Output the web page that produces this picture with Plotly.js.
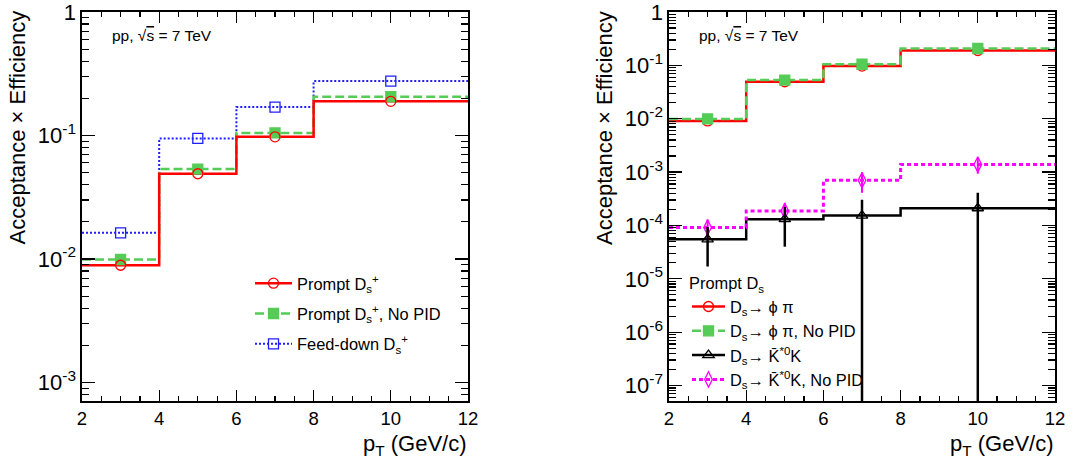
<!DOCTYPE html>
<html><head><meta charset="utf-8">
<script src="https://cdn.plot.ly/plotly-3.0.1.min.js"></script>
<style>body{margin:0;background:#fff}#plot{width:1078px;height:464px}</style>
</head><body><div id="plot"></div>
<script>
// ---- data ----
const binEdges = [2, 4, 6, 8, 12];
const binCenters = [3, 5, 7, 10];
// left panel
const promptDs = [0.0089, 0.049, 0.0975, 0.189];
const promptDsNoPID = [0.0099, 0.0535, 0.105, 0.206];
const feedDownDs = [0.0163, 0.0946, 0.170, 0.276];
// right panel
const phiPi = [0.0091, 0.0493, 0.0968, 0.190];
const phiPiNoPID = [0.0099, 0.053, 0.105, 0.207];
const kstarK = [5.5e-5, 1.31e-4, 1.53e-4, 2.1e-4];
const kstarKErrPlus = [3.8e-5, 9.1e-5, 1.5e-4, 2.0e-4];
const kstarKErrMinus = [3.8e-5, 9.1e-5, 1.6e-4, 2.2e-4];
const kstarKNoPID = [9.2e-5, 1.87e-4, 7.0e-4, 1.39e-3];
const kstarKNoPIDErr = [3.8e-5, 8.0e-5, 2.9e-4, 4.6e-4];
const xTicks = [2, 4, 6, 8, 10, 12];
const yTicksLeft = [1, 0.1, 0.01, 0.001];
const yTextLeft = ['1', '10<sup>-1</sup>', '10<sup>-2</sup>', '10<sup>-3</sup>'];
const yTicksRight = [1, 0.1, 0.01, 0.001, 1e-4, 1e-5, 1e-6, 1e-7];
const yTextRight = ['1', '10<sup>-1</sup>', '10<sup>-2</sup>', '10<sup>-3</sup>', '10<sup>-4</sup>', '10<sup>-5</sup>', '10<sup>-6</sup>', '10<sup>-7</sup>'];

const F = 'Liberation Sans, Arial, Helvetica, sans-serif';
const W = 1078, H = 464;

function minorLog(lo, hi) {
  const v = [];
  for (let e = lo; e < hi; e++) for (let k = 2; k <= 9; k++) v.push(k * Math.pow(10, e));
  return v;
}
function stepY(vals) { return vals.concat([vals[vals.length - 1]]); }

function stepTrace(vals, color, width, dash, xa, ya) {
  return {x: binEdges, y: stepY(vals), type: 'scatter', mode: 'lines',
    line: {shape: 'hv', color: color, width: width, dash: dash},
    xaxis: xa, yaxis: ya, showlegend: false, hoverinfo: 'skip'};
}
function markTrace(vals, symbol, color, size, fill, xa, ya, err) {
  const t = {x: binCenters, y: vals, type: 'scatter', mode: 'markers',
    marker: {symbol: symbol, size: size, color: fill || color, line: {color: color, width: 1.3}},
    xaxis: xa, yaxis: ya, showlegend: false};
  if (err) t.error_y = err;
  return t;
}
function legTrace(name, color, width, dash, symbol, size, fill, legend) {
  return {x: [null], y: [null], type: 'scatter', mode: 'lines+markers', name: name,
    line: {color: color, width: width, dash: dash},
    marker: {symbol: symbol, size: size, color: fill || color, line: {color: color, width: 1.3}},
    xaxis: legend === 'legend' ? 'x' : 'x2', yaxis: legend === 'legend' ? 'y' : 'y2',
    legend: legend, legendgroup: name};
}

const RED = '#ff0000', GREEN = '#55cc55', BLUE = '#1e1eff', MAG = '#ff00ff', BLK = '#000000';
const greenDash = '9px,4px', blueDot = '2px,2px', magDot = '4px,3px';

const traces = [
  stepTrace(feedDownDs, BLUE, 2, blueDot, 'x', 'y'),
  stepTrace(promptDsNoPID, GREEN, 2.5, greenDash, 'x', 'y'),
  stepTrace(promptDs, RED, 2.5, 'solid', 'x', 'y'),
  markTrace(feedDownDs, 'square-open', BLUE, 10, null, 'x', 'y'),
  markTrace(promptDsNoPID, 'square', GREEN, 10, null, 'x', 'y'),
  markTrace(promptDs, 'circle-open', RED, 10, null, 'x', 'y'),

  stepTrace(kstarK, BLK, 2.5, 'solid', 'x2', 'y2'),
  stepTrace(kstarKNoPID, MAG, 3, magDot, 'x2', 'y2'),
  stepTrace(phiPi, RED, 2.5, 'solid', 'x2', 'y2'),
  stepTrace(phiPiNoPID, GREEN, 2.5, greenDash, 'x2', 'y2'),
  markTrace(kstarKNoPID, 'diamond-tall-open', MAG, 11, null, 'x2', 'y2',
    {type: 'data', array: kstarKNoPIDErr, color: MAG, thickness: 2, width: 0}),
  markTrace(kstarK, 'triangle-up-open', BLK, 10, null, 'x2', 'y2',
    {type: 'data', array: kstarKErrPlus, arrayminus: kstarKErrMinus, symmetric: false, color: BLK, thickness: 2.5, width: 0}),
  markTrace(phiPi, 'circle-open', RED, 10, null, 'x2', 'y2'),
  markTrace(phiPiNoPID, 'square', GREEN, 10, null, 'x2', 'y2'),

  legTrace('Prompt D<sub>s</sub><sup>+</sup>', RED, 2.5, 'solid', 'circle-open', 10, null, 'legend'),
  legTrace('Prompt D<sub>s</sub><sup>+</sup>, No PID', GREEN, 2.5, greenDash, 'square', 10, null, 'legend'),
  legTrace('Feed-down D<sub>s</sub><sup>+</sup>', BLUE, 2, blueDot, 'square-open', 10, null, 'legend'),
  legTrace('D<sub>s</sub>\u2192 \u03d5 \u03c0', RED, 2.5, 'solid', 'circle-open', 10, null, 'legend2'),
  legTrace('D<sub>s</sub>\u2192 \u03d5 \u03c0, No PID', GREEN, 2.5, greenDash, 'square', 10, null, 'legend2'),
  legTrace('D<sub>s</sub>\u2192 K\u0304<sup>*0</sup>K', BLK, 2.5, 'solid', 'triangle-up-open', 10, null, 'legend2'),
  legTrace('D<sub>s</sub>\u2192 K\u0304<sup>*0</sup>K, No PID', MAG, 3, magDot, 'diamond-tall-open', 11, null, 'legend2')
];

const axCommon = {
  showline: true, linecolor: 'black', linewidth: 1.6, mirror: 'ticks',
  ticks: 'inside', tickcolor: 'black', tickwidth: 1.2,
  showgrid: false, zeroline: false, ticklabeloverflow: 'allow'
};
function xAx(domain, anchor) {
  return Object.assign({}, axCommon, {domain: domain, anchor: anchor, range: [2, 12],
    tickmode: 'array', tickvals: xTicks, ticklen: 11,
    tickfont: {family: F, size: 18.5, color: 'black'},
    minor: {dtick: 0.5, tick0: 2, ticklen: 5, ticks: 'inside', tickcolor: 'black', tickwidth: 1.2}});
}
function yAx(range, tv, tt, anchor, lo) {
  return Object.assign({}, axCommon, {domain: [(H - 401) / H, (H - 12) / H], anchor: anchor, type: 'log', range: range,
    tickmode: 'array', tickvals: tv, ticktext: tt, ticklen: 13,
    tickfont: {family: F, size: 22, color: 'black'},
    minor: {tickmode: 'array', tickvals: minorLog(lo, 0), ticklen: 7, ticks: 'inside', tickcolor: 'black', tickwidth: 1.2}});
}

const annFont = {family: F, size: 22, color: 'black'};
const legFont = {family: F, size: 16.4, color: 'black'};
const ppFont = {family: F, size: 15.5, color: 'black'};
const layout = {
  width: W, height: H, margin: {l: 0, r: 0, t: 0, b: 0},
  paper_bgcolor: 'white', plot_bgcolor: 'white',
  font: {family: F, color: 'black'},
  xaxis: xAx([82 / W, 468 / W], 'y'),
  yaxis: yAx([-3.15, 0], yTicksLeft, yTextLeft, 'x', -4),
  xaxis2: xAx([669 / W, 1055 / W], 'y2'),
  yaxis2: yAx([-7.29, 0], yTicksRight, yTextRight, 'x2', -8),
  legend: {x: 250 / W, xanchor: 'left', y: 1 - 266 / H, yanchor: 'top', bgcolor: 'rgba(0,0,0,0)',
    font: legFont, traceorder: 'grouped', tracegroupgap: 6, itemwidth: 37},
  legend2: {x: 687 / W, xanchor: 'left', y: 1 - 268 / H, yanchor: 'top', bgcolor: 'rgba(0,0,0,0)',
    font: legFont, traceorder: 'grouped', tracegroupgap: 0, itemwidth: 33,
    title: {text: 'Prompt D<sub>s</sub>', font: legFont}},
  annotations: [
    {text: 'Acceptance \u00d7 Efficiency', xref: 'paper', yref: 'paper', x: 17.5 / W, y: 1 - 9 / H,
      xanchor: 'center', yanchor: 'top', textangle: -90, showarrow: false, font: annFont},
    {text: 'Acceptance \u00d7 Efficiency', xref: 'paper', yref: 'paper', x: 605 / W, y: 1 - 9 / H,
      xanchor: 'center', yanchor: 'top', textangle: -90, showarrow: false, font: annFont},
    {text: 'p<sub>T</sub> (GeV/c)', xref: 'paper', yref: 'paper', x: 469 / W, y: 1 - 445 / H,
      xanchor: 'right', yanchor: 'middle', showarrow: false, font: annFont},
    {text: 'p<sub>T</sub> (GeV/c)', xref: 'paper', yref: 'paper', x: 1056 / W, y: 1 - 445 / H,
      xanchor: 'right', yanchor: 'middle', showarrow: false, font: annFont},
    {text: 'pp, \u221a<span style="text-decoration:overline">s</span> = 7 TeV', xref: 'paper', yref: 'paper', x: 110 / W, y: 1 - 36 / H,
      xanchor: 'left', yanchor: 'middle', showarrow: false, font: ppFont},
    {text: 'pp, \u221a<span style="text-decoration:overline">s</span> = 7 TeV', xref: 'paper', yref: 'paper', x: 697 / W, y: 1 - 36 / H,
      xanchor: 'left', yanchor: 'middle', showarrow: false, font: ppFont}
  ]
};

Plotly.newPlot('plot', traces, layout, {staticPlot: true, displayModeBar: false});
</script>
</body></html>
